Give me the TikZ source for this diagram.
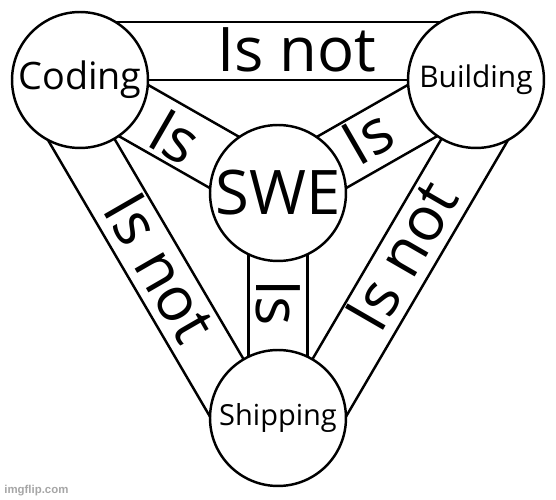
\documentclass[tikz,border=0pt]{standalone}
\usepackage{fontspec}
\setmainfont{Open Sans}
\newfontfamily\wmfont{Liberation Sans}
\usetikzlibrary{calc,backgrounds}
\tikzset{
  circ/.style={circle, draw=black, fill=white, line width=1.4pt, minimum size=2.72cm, inner sep=0pt},
  band/.style={line width=1.4pt, draw=black},
  lab/.style={font=\fontsize{35}{38}\selectfont, inner sep=0pt},
  wmark/.style={text=gray!70, font=\wmfont\bfseries\fontsize{6.5}{7}\selectfont, inner sep=0pt}
}

\begin{document}
\begin{tikzpicture}[x=0.02cm, y=-0.02cm]
\useasboundingbox (0,0) rectangle (556,500);
% the four circles
\node[circ, font=\fontsize{21.5}{24}\selectfont] (coding) at (80,80) {Coding};
\node[circ, font=\fontsize{17}{20}\selectfont] (building) at (476,80) {Building};
\node[circ, font=\fontsize{35}{38}\selectfont] (swe) at (278,193) {SWE};
\node[circ, font=\fontsize{16.5}{19}\selectfont] (shipping) at (278,418) {Shipping};

% bands behind the circles
\begin{scope}[on background layer]
\fill[white] (0,0) rectangle (556,500);
% outer bands
\draw[band] (coding.center) -- (building.center);
\draw[band] ($(coding.center)!1.16cm!90:(building.center)$) -- ($(building.center)!1.16cm!-90:(coding.center)$);
\draw[band] (coding.center) -- (shipping.center);
\draw[band] ($(coding.center)!1.16cm!-90:(shipping.center)$) -- ($(shipping.center)!1.16cm!90:(coding.center)$);
\draw[band] (building.center) -- (shipping.center);
\draw[band] ($(building.center)!1.16cm!90:(shipping.center)$) -- ($(shipping.center)!1.16cm!-90:(building.center)$);
% inner bands
\draw[band] ($(coding.center)!0.59cm!90:(swe.center)$) -- ($(swe.center)!0.59cm!-90:(coding.center)$);
\draw[band] ($(coding.center)!0.59cm!-90:(swe.center)$) -- ($(swe.center)!0.59cm!90:(coding.center)$);
\draw[band] ($(building.center)!0.59cm!90:(swe.center)$) -- ($(swe.center)!0.59cm!-90:(building.center)$);
\draw[band] ($(building.center)!0.59cm!-90:(swe.center)$) -- ($(swe.center)!0.59cm!90:(building.center)$);
\draw[band] ($(swe.center)!0.59cm!90:(shipping.center)$) -- ($(shipping.center)!0.59cm!-90:(swe.center)$);
\draw[band] ($(swe.center)!0.59cm!-90:(shipping.center)$) -- ($(shipping.center)!0.59cm!90:(swe.center)$);
\end{scope}

% band labels
\node[lab] (isnotTop) at (297,50) {Is not};
\node[lab, rotate=-30] (isCS) at (175,137) {Is};
\node[lab, rotate=30] (isBS) at (368,137) {Is};
\node[lab, rotate=-60] (isnotCP) at (160,268) {Is not};
\node[lab, rotate=60] (isnotBP) at (402,256) {Is not};
\node[lab, rotate=-90] (isSP) at (278,303) {Is};

\node[wmark, anchor=south west] (imgflip) at (4,496) {imgflip.com};
\end{tikzpicture}
\end{document}
